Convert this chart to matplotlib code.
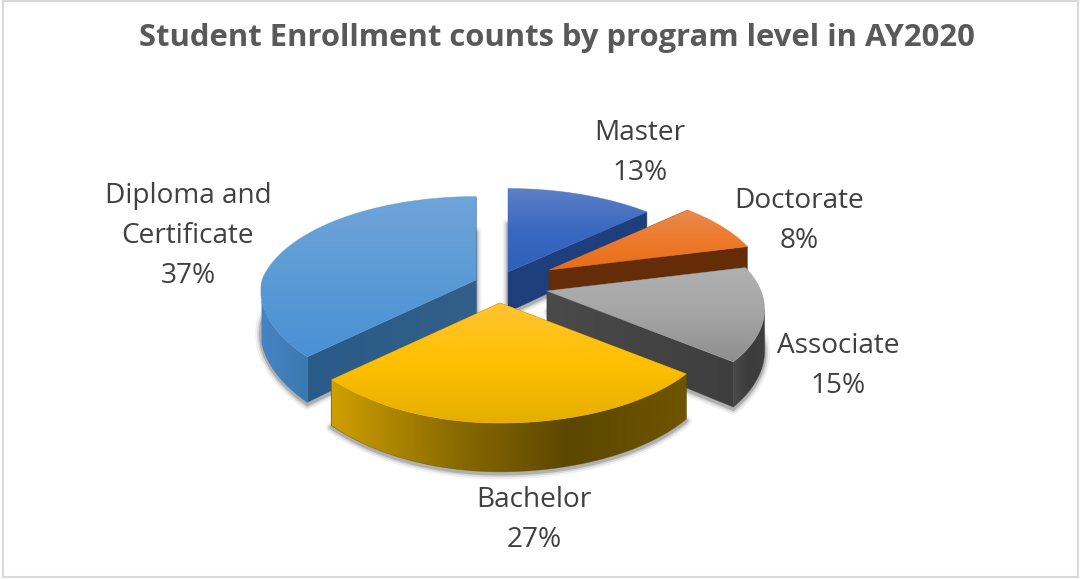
# -*- coding: utf-8 -*-
"""Student enrollment by program level, drawn as an exploded 3D pie."""

import numpy as np
import matplotlib
matplotlib.use("Agg")
import matplotlib.pyplot as plt
from matplotlib.colors import to_rgb
from matplotlib.patches import Polygon, Rectangle

# Data, clockwise from 12 o'clock
levels = ["Master", "Doctorate", "Associate", "Bachelor", "Diploma and\nCertificate"]
shares = [13, 8, 15, 27, 37]
title = "Student Enrollment counts by program level in AY2020"

# Slice styling, same order as levels
apex_xy = [(508, 272), (549, 270), (547, 291), (500, 303), (476, 280)]
top_colors = [
    ["#5E80C6", "#3A68C0", "#3060BA"],
    ["#E88A50", "#EE7A2C", "#E56E1A"],
    ["#B0B0B0", "#A5A5A5", "#8E8E8E"],
    ["#FFC435", "#FFC000", "#E5AE00"],
    ["#70A4DA", "#5B9BD5", "#4A90D4"],
]
side_colors = [
    ["#1E3F7C", "#1E3F7C"],
    ["#642D08", "#642D08"],
    ["#4A4A4A", "#3C3C3C", "#3E3E3E"],
    ["#CFA000", "#8C6D00", "#5C4700", "#6E5500"],
    ["#4585C4", "#3A78B0"],
]
wall_colors = [
    ["#1E3F7C", "#1E3F7C"],
    ["#642D08", "#642D08"],
    ["#4A4A4A", "#3E3E3E"],
    ["#8C6D00", "#6E5500"],
    ["#2A5A88", "#33608A"],
]
draw_order = [0, 1, 4, 2, 3]
label_xy = [(640, 153), (799, 221), (838, 366), (534, 520), (188, 236)]

# Pie geometry in pixels
RADIUS = 214
TILT = 0.46
PERSP = 0.18
PERSP_FRONT_LEFT = 0.11
DEPTH = 40

plt.rcParams["font.family"] = ["Open Sans", "DejaVu Sans"]


def project(x, y, z=0.0):
    """Plane offsets from a slice apex (y towards the viewer) to pixel offsets."""
    scale = 1.0 / (1.0 - PERSP * y / RADIUS)
    px = np.where((x < 0) & (y > 0), PERSP_FRONT_LEFT, PERSP)
    return x / (1.0 - px * y / RADIUS), (TILT * y + z * DEPTH) * scale


def hull(points):
    pts = sorted(map(tuple, points))
    def half(seq):
        out = []
        for p in seq:
            while len(out) > 1 and ((out[-1][0] - out[-2][0]) * (p[1] - out[-2][1])
                                    - (out[-1][1] - out[-2][1]) * (p[0] - out[-2][0])) <= 0:
                out.pop()
            out.append(p)
        return out[:-1]
    return np.array(half(pts) + half(pts[::-1]))


def gradient_fill(ax, verts, colors, vertical, zorder):
    """Fill a polygon with a linear gradient through the given colours."""
    verts = np.asarray(verts)
    x0, y0 = verts.min(axis=0)
    x1, y1 = verts.max(axis=0)
    rgb = np.array([to_rgb(c) for c in colors])
    t = np.linspace(0, 1, 256)
    stops = np.linspace(0, 1, len(colors))
    ramp = np.stack([np.interp(t, stops, rgb[:, i]) for i in range(3)], axis=-1)
    ramp = ramp[:, None, :] if vertical else ramp[None, :, :]
    im = ax.imshow(ramp, extent=(x0, x1, y1, y0), origin="upper", aspect="auto",
                   interpolation="bilinear", zorder=zorder)
    im.set_clip_path(Polygon(verts, closed=True, transform=ax.transData))
    edge = rgb[len(rgb) // 2]
    ax.add_patch(Polygon(verts, closed=True, fill=False, edgecolor=edge,
                         linewidth=0.5, alpha=0.6, zorder=zorder))


fig = plt.figure(figsize=(10.81, 5.79), dpi=100, facecolor="white")
ax = fig.add_axes([0, 0, 1, 1])

# Slice angles follow from the shares
edges = np.deg2rad(np.cumsum([0] + shares) / sum(shares) * 360)

z = 2
for i in draw_order:
    th = np.linspace(edges[i], edges[i + 1], 90)
    arc_x = RADIUS * np.sin(th)
    arc_y = -RADIUS * np.cos(th)

    top = np.column_stack(project(np.r_[0, arc_x], np.r_[0, arc_y])) + apex_xy[i]
    bottom = np.column_stack(project(np.r_[0, arc_x], np.r_[0, arc_y], 1.0)) + apex_xy[i]

    # Soft shadow under the lower face
    outline = hull(bottom) + [0, 2]
    for lw, alpha in [(8, 0.06), (5, 0.10), (2.5, 0.18)]:
        ax.add_patch(Polygon(outline, closed=True, facecolor="none", edgecolor="black",
                             linewidth=lw, alpha=alpha, joinstyle="round", zorder=z))
    z += 1

    # Cut faces
    for k in (1, -1):
        wall = np.array([top[0], top[k], bottom[k], bottom[0]])
        gradient_fill(ax, wall, wall_colors[i], False, z)
        z += 1

    # Outer rim, only where it faces the viewer
    front = np.cos(th) <= -PERSP
    if front.any():
        rim = np.vstack([top[1:][front], bottom[1:][front][::-1]])
        gradient_fill(ax, rim, side_colors[i], False, z)
        z += 1

    gradient_fill(ax, top, top_colors[i], True, z)
    z += 1

ax.set_xlim(0, 1081)
ax.set_ylim(579, 0)
ax.axis("off")

# Chart frame
ax.add_patch(Rectangle((3, 1), 1075, 576, fill=False, edgecolor="#D9D9D9",
                       linewidth=1.5, zorder=z))

# Category labels with percentages
for name, share, (x, y) in zip(levels, shares, label_xy):
    ax.text(x, y, f"{name}\n{share}%", ha="center", va="center", fontsize=20.2,
            color="#404040", linespacing=1.56, zorder=z + 1)

ax.text(557, 38, title, ha="center", va="center", fontsize=22.3, fontweight="bold",
        color="#595959", zorder=z + 1)

fig.savefig("out.png", dpi=100)
plt.close(fig)
